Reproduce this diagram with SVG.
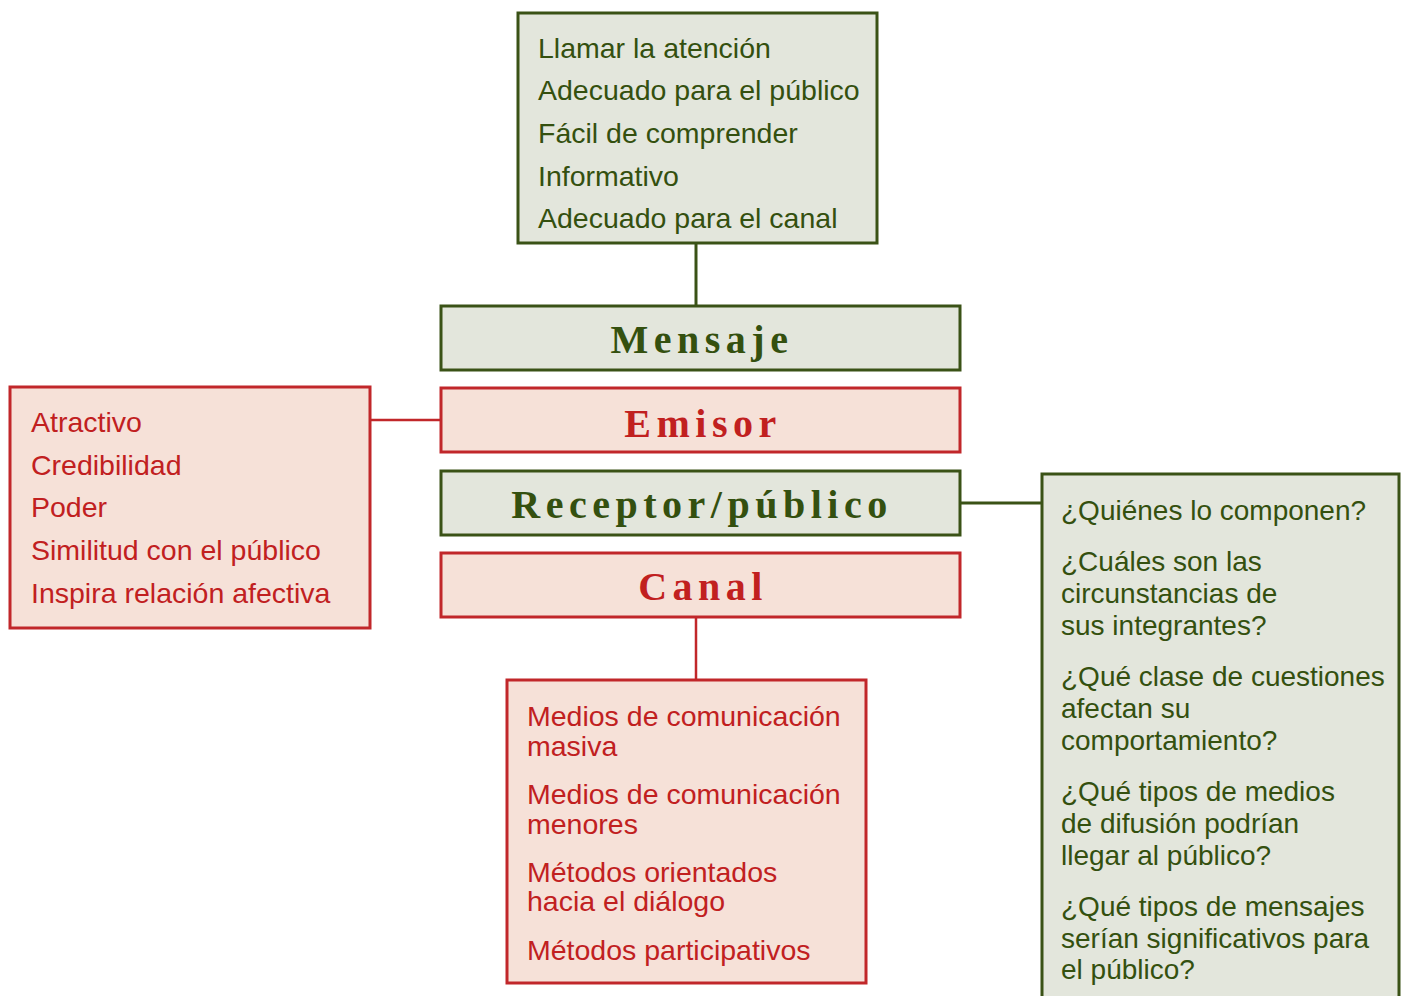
<svg xmlns="http://www.w3.org/2000/svg" width="1401" height="996" viewBox="0 0 1401 996">
<style>
.g{fill:#e3e6dc;stroke:#3a5216;stroke-width:3}
.r{fill:#f6e1d8;stroke:#c1272a;stroke-width:3}
.t{font-family:"Liberation Sans",Arial,sans-serif;font-size:28.5px}
.ts{font-size:28px}
.tg{fill:#34500f}
.tr{fill:#c1201f}
.h{font-family:"Liberation Serif","Times New Roman",serif;font-size:40px;font-weight:bold;letter-spacing:5.5px;text-anchor:middle}
.lg{stroke:#3a5216;stroke-width:3;fill:none}
.lr{stroke:#c1272a;stroke-width:2.5;fill:none}
</style>
<rect width="1401" height="996" fill="#ffffff"/>
<g id="connectors">
<line class="lg" x1="696" y1="244" x2="696" y2="306"/>
<line class="lr" x1="370" y1="420" x2="441" y2="420"/>
<line class="lg" x1="960" y1="503" x2="1042" y2="503"/>
<line class="lr" x1="696" y1="618" x2="696" y2="680"/>
</g>
<g id="mensaje-detalles">
<rect class="g" x="518" y="13" width="359" height="230"/>
<text class="t tg"><tspan x="538" y="58">Llamar la atención</tspan><tspan x="538" y="100">Adecuado para el público</tspan><tspan x="538" y="143">Fácil de comprender</tspan><tspan x="538" y="186">Informativo</tspan><tspan x="538" y="228">Adecuado para el canal</tspan></text>
</g>
<g id="mensaje">
<rect class="g" x="441" y="306" width="519" height="64"/>
<text class="h tg" x="702" y="353">Mensaje</text>
</g>
<g id="emisor">
<rect class="r" x="441" y="388" width="519" height="64"/>
<text class="h tr" x="703" y="437">Emisor</text>
</g>
<g id="receptor">
<rect class="g" x="441" y="471" width="519" height="64"/>
<text class="h tg" x="702" y="518">Receptor/público</text>
</g>
<g id="canal">
<rect class="r" x="441" y="553" width="519" height="64"/>
<text class="h tr" x="703" y="600">Canal</text>
</g>
<g id="emisor-detalles">
<rect class="r" x="10" y="387" width="360" height="241"/>
<text class="t tr"><tspan x="31" y="432">Atractivo</tspan><tspan x="31" y="475">Credibilidad</tspan><tspan x="31" y="517">Poder</tspan><tspan x="31" y="560">Similitud con el público</tspan><tspan x="31" y="603">Inspira relación afectiva</tspan></text>
</g>
<g id="receptor-detalles">
<rect class="g" x="1042" y="474" width="357" height="530"/>
<text class="t ts tg"><tspan x="1061" y="520">¿Quiénes lo componen?</tspan><tspan x="1061" y="571">¿Cuáles son las</tspan><tspan x="1061" y="603">circunstancias de</tspan><tspan x="1061" y="635">sus integrantes?</tspan><tspan x="1061" y="686">¿Qué clase de cuestiones</tspan><tspan x="1061" y="718">afectan su</tspan><tspan x="1061" y="750">comportamiento?</tspan><tspan x="1061" y="801">¿Qué tipos de medios</tspan><tspan x="1061" y="833">de difusión podrían</tspan><tspan x="1061" y="865">llegar al público?</tspan><tspan x="1061" y="916">¿Qué tipos de mensajes</tspan><tspan x="1061" y="948">serían significativos para</tspan><tspan x="1061" y="979">el público?</tspan></text>
</g>
<g id="canal-detalles">
<rect class="r" x="507" y="680" width="359" height="303"/>
<text class="t tr"><tspan x="527" y="726">Medios de comunicación</tspan><tspan x="527" y="756">masiva</tspan><tspan x="527" y="804">Medios de comunicación</tspan><tspan x="527" y="834">menores</tspan><tspan x="527" y="882">Métodos orientados</tspan><tspan x="527" y="911">hacia el diálogo</tspan><tspan x="527" y="960">Métodos participativos</tspan></text>
</g>
</svg>
